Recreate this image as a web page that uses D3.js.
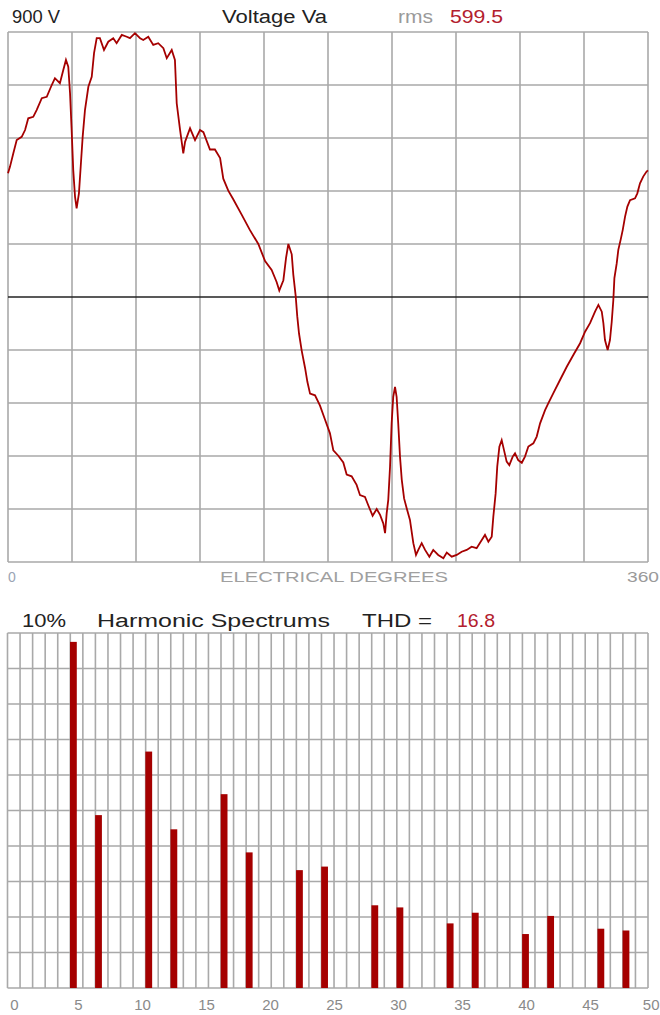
<!DOCTYPE html>
<html><head><meta charset="utf-8">
<script src="https://cdn.jsdelivr.net/npm/d3@7"></script>
<style>
body{margin:0;background:#fff}
svg{display:block}
text{font-family:"Liberation Sans",Arial,sans-serif}
</style>
</head><body>
<svg id="c" width="660" height="1015"></svg>
<script>
// ---------- DATA ----------
const waveDeg = [0,1.1,3.0,4.9,7.7,9.6,11.4,14.2,16.1,19.0,21.8,24.6,26.4,29.2,31.1,32.6,33.9,34.9,35.8,36.7,37.7,38.6,39.9,40.9,42.0,43.3,45.2,47.1,48.4,49.9,51.7,54.0,56.4,59.2,61.1,64.0,66.8,68.6,71.4,74.3,76.1,78.9,81.7,84.5,87.4,89.3,92.1,93.9,94.9,96.8,98.6,99.6,102.4,105.2,108.0,
109.9,113.6,116.4,119.3,121.1,123.9,126.7,131.5,136.1,140.8,144.6,148.3,151.1,152.6,154.9,156.4,157.7,159.6,160.5,161.8,162.7,163.7,165.2,167.1,168.4,169.9,172.7,175.5,178.3,181.1,183.0,185.8,188.6,190.5,193.3,196.1,198.0,200.8,202.7,205.1,207.4,209.3,211.1,212.1,213.0,213.9,214.9,215.8,216.7,217.7,218.6,219.5,220.5,221.5,222.8,224.3,226.1,228.0,229.5,230.8,232.7,234.6,237.0,239.2,242.0,244.9,246.8,249.6,252.4,255.2,258.0,260.8,263.6,266.5,268.3,270.2,272.1,273.0,274.3,275.2,276.4,277.7,279.0,280.5,282.0,283.9,285.2,287.0,289.0,290.8,292.7,295.5,297.4,299.3,302.1,303.9,306.7,310.5,314.3,318.0,321.8,324.6,327.4,330.2,332.1,334.0,334.9,335.8,337.3,338.6,339.6,340.5,341.1,342.4,343.3,344.6,345.8,347.1,348.4,349.9,352.7,354.0,355.5,357.3,359.2,360];
const waveVolt = [420,442,488,533,544,567,607,612,635,675,680,720,743,726,771,805,782,692,567,431,341,301,352,443,544,635,714,748,828,879,879,839,867,879,862,890,884,879,896,879,873,884,856,862,845,811,839,805,658,567,488,527,573,533,567,
560,501,501,472,402,361,332,279,227,180,122,92,51,22,57,133,180,145,75,5,-65,-124,-182,-241,-288,-328,-334,-369,-416,-463,-521,-539,-562,-603,-609,-638,-673,-679,-708,-743,-720,-740,-769,-802,-735,-689,-576,-429,-339,-305,-339,-429,-542,-621,-684,-718,-757,-836,-876,-859,-836,-859,-882,-859,-876,-887,-868,-882,-876,-865,-859,-848,-853,-825,-808,-831,-814,-746,-667,-576,-508,-486,-520,-559,-571,-542,-531,-554,-563,-542,-508,-497,-474,-429,-384,-361,-327,-282,-237,-197,-157,-118,-89,-50,-27,-50,-89,-146,-180,-146,-84,-10,64,114,160,194,228,273,307,329,335,352,386,409,426,430];

const harmonics   = [5,7,11,13,17,19,23,25,29,31,35,37,41,43,47,49];
const harmonicPct = [9.75,4.87,6.66,4.47,5.46,3.82,3.32,3.42,2.33,2.27,1.82,2.12,1.52,2.03,1.67,1.62];

const degreeGrid   = [0,36,72,108,144,180,216,252,288,324,360];
const voltGrid     = [-900,-720,-540,-360,-180,0,180,360,540,720,900];
const harmonicGrid = d3.range(0,52);          // 51 grid columns
const pctGrid      = [0,1,2,3,4,5,6,7,8,9,10];
const spectrumTicks = [0,5,10,15,20,25,30,35,40,45,50];

const topTitle = {scale:"900  V", name:"Voltage Va", rmsLabel:"rms", rms:"599.5"};
const botTitle = {scale:"10%", name:"Harmonic Spectrums", thdLabel:"THD =", thd:"16.8"};

// ---------- STYLE ----------
const gridColor = "#a9a9a9", red = "#a50000", valRed = "#b3202e";
const svg = d3.select("#c");

// ---------- TOP: waveform ----------
const x = d3.scaleLinear().domain([0,360]).range([8,648]);
const y = d3.scaleLinear().domain([-900,900]).range([562,32]);

const gTop = svg.append("g");
gTop.selectAll("line.v").data(degreeGrid).join("line")
  .attr("x1",d=>x(d)).attr("x2",d=>x(d)).attr("y1",y(900)).attr("y2",y(-900))
  .attr("stroke",gridColor).attr("stroke-width",1.6);
gTop.selectAll("line.h").data(voltGrid).join("line")
  .attr("x1",x(0)).attr("x2",x(360)).attr("y1",d=>y(d)).attr("y2",d=>y(d))
  .attr("stroke",d=>d===0?"#222":gridColor).attr("stroke-width",1.6);

const wave = waveDeg.map((d,i)=>[d,waveVolt[i]]);
gTop.append("path").datum(wave)
  .attr("d",d3.line().x(d=>x(d[0])).y(d=>y(d[1])))
  .attr("fill","none").attr("stroke",red).attr("stroke-width",1.8)
  .attr("stroke-linejoin","miter");

// header
function t(g,txt,xx,yy,opts){
  const e = g.append("text").text(txt).attr("x",xx).attr("y",yy)
    .attr("font-size",opts.size||17).attr("fill",opts.fill||"#222");
  if(opts.len){e.attr("textLength",opts.len).attr("lengthAdjust","spacingAndGlyphs");}
  if(opts.anchor) e.attr("text-anchor",opts.anchor);
  return e;
}
t(svg,topTitle.scale,12,23,{len:48,size:18});
t(svg,topTitle.name,222,23,{len:105,size:18});
t(svg,topTitle.rmsLabel,398,23,{len:35,fill:"#9a9a9a",size:18});
t(svg,topTitle.rms,450,23,{len:53,fill:valRed,size:18});

t(svg,"0",8,582,{size:14,fill:"#9aa4b4"});
t(svg,"ELECTRICAL DEGREES",220,582,{size:14,fill:"#a0a0a0",len:228});
t(svg,"360",627,582,{size:14,fill:"#9a9a9a",len:32});

// ---------- BOTTOM: harmonic spectrum ----------
const xh = d3.scaleLinear().domain([0,51]).range([7.5,648]);
const yp = d3.scaleLinear().domain([0,10]).range([988,633]);
const xl = d3.scaleLinear().domain([0,50]).range([8,648]);

const gB = svg.append("g");
gB.selectAll("line.v").data(harmonicGrid).join("line")
  .attr("x1",d=>xh(d)).attr("x2",d=>xh(d)).attr("y1",yp(10)).attr("y2",yp(0))
  .attr("stroke",gridColor).attr("stroke-width",1.6);
gB.selectAll("line.h").data(pctGrid).join("line")
  .attr("x1",xh(0)).attr("x2",xh(51)).attr("y1",d=>yp(d)).attr("y2",d=>yp(d))
  .attr("stroke",gridColor).attr("stroke-width",1.6);

gB.selectAll("rect.bar").data(harmonics).join("rect")
  .attr("x",d=>xh(d)-0.3).attr("width",6.8)
  .attr("y",(d,i)=>yp(harmonicPct[i])).attr("height",(d,i)=>yp(0)-yp(harmonicPct[i]))
  .attr("fill",red);

const axis = d3.axisBottom(xl).tickValues(spectrumTicks).tickSize(0).tickPadding(0);
const gAx = svg.append("g").attr("transform","translate(6,999)").call(axis);
gAx.select(".domain").remove();
gAx.selectAll("text").attr("font-size",15).attr("fill","#8a8a8a")
  .attr("font-family","'Liberation Sans',Arial,sans-serif");
// keep the last label inside the window
gAx.selectAll(".tick").filter(d=>d===50).select("text")
  .attr("text-anchor","end").attr("x",5);

t(svg,botTitle.scale,22,627,{len:44,size:18});
t(svg,botTitle.name,97,627,{len:233,size:18});
t(svg,botTitle.thdLabel,362,627,{len:70,size:18});
t(svg,botTitle.thd,457,627,{len:38,fill:valRed,size:18});
</script>
</body></html>
